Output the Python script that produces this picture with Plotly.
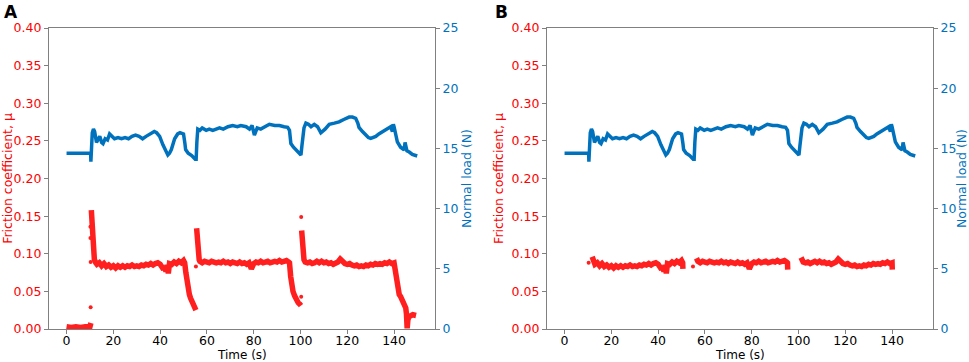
import plotly.graph_objects as go

# ---------------- data ----------------
# Normal load (N), identical in both panels
load_t = [0, 5, 10.3, 10.4, 10.6, 11.0, 11.5, 12.0, 12.8, 13.5, 14.2, 15.0, 15.6, 16.5, 17.5,
          18.4, 19.5, 20.5, 22, 23.5, 25, 26.5, 28, 29.5, 31, 32.5, 34, 35.5, 37.5, 38.5, 39.8,
          41.2, 42.3, 43.3, 44.0, 44.8, 46.2, 47.5, 48.5, 50.0, 50.6, 50.9, 52.0, 53.5, 55.0,
          55.4, 55.7, 56.1, 57, 58, 59.7, 61, 62.5, 64, 65.4, 67, 69, 71, 73, 74.5, 76.8, 78.2,
          79.3, 80.3, 81.5, 83, 85, 86.7, 89, 91, 93, 94.5, 95.3, 95.9, 97, 98.1, 99.5, 100.2,
          100.6, 100.9, 101.5, 102.3, 103.4, 104.5, 105.9, 107.3, 108.7, 110.5, 112.3, 114.5,
          116.5, 118.5, 120.8, 122.2, 123.6, 124.5, 125.0, 126.5, 127.9, 129, 130.0, 131.2,
          132.2, 133.5, 135.0, 136.8, 138.5, 139.3, 139.7, 140.0, 140.7, 141.4, 142.8, 144.3,
          144.7, 145.0, 145.5, 146.5, 147.8, 149.9]
load_n = [14.6, 14.6, 14.6, 13.9, 15.2, 16.3, 16.6, 16.4, 15.5, 15.7, 16.0, 15.5, 15.4, 15.8, 15.7,
          16.2, 16.0, 15.8, 15.9, 15.8, 15.9, 15.8, 16.0, 16.1, 16.0, 15.8, 16.0, 16.2, 16.4, 16.3, 16.0,
          15.3, 14.8, 14.45, 14.6, 14.9, 15.8, 16.2, 16.3, 16.2, 15.4, 14.9, 14.6, 14.4, 14.1,
          14.1, 15.5, 16.6, 16.5, 16.7, 16.5, 16.6, 16.5, 16.6, 16.7, 16.6, 16.8, 16.9, 16.8, 16.9, 16.8, 16.6,
          16.9, 16.1, 16.7, 16.6, 16.8, 17.0, 16.9, 16.9, 16.8, 16.75, 16.5, 15.4, 15.1, 14.9, 14.6, 14.45,
          15.2, 16.0, 16.7, 17.1, 17.0, 16.8, 17.0, 16.8, 16.3, 16.6, 17.0, 17.1,
          17.2, 17.4, 17.6, 17.6, 17.5, 17.1, 16.75, 16.4, 16.1, 15.9, 15.84, 15.9,
          16.0, 16.2, 16.4, 16.6, 16.8, 16.4, 17.0, 16.8, 16.0, 15.55, 15.1, 14.87,
          15.5, 15.2, 14.8, 14.7, 14.5, 14.37]

# Friction plateaus (shared by both panels)
plat1_t = [12.5, 13, 14, 15, 16, 17, 18, 19, 20, 21, 22, 23, 24, 25, 26, 27, 28, 29, 30, 31, 32, 33,
           34, 35, 36, 37, 38, 39, 40, 41, 41.5, 42, 42.5, 43, 43.5, 44, 45, 46, 47, 48, 49, 50, 50.5]
plat1_mu = [0.088, 0.086, 0.088, 0.084, 0.087, 0.083, 0.085, 0.082, 0.084, 0.081, 0.084, 0.082, 0.084,
            0.082, 0.084, 0.083, 0.085, 0.083, 0.084, 0.083, 0.085, 0.084, 0.086, 0.085, 0.087, 0.085,
            0.087, 0.088, 0.086, 0.083, 0.079, 0.084, 0.076, 0.085, 0.074, 0.087, 0.086, 0.089, 0.087,
            0.090, 0.088, 0.091, 0.088]
plat2_t = [57, 58, 59, 60, 61, 62, 63, 64, 65, 66, 67, 68, 69, 70, 71, 72, 73, 74, 75, 76, 77, 78, 79,
           80, 81, 82, 83, 84, 85, 86, 87, 88, 89, 90, 91, 92, 93, 94, 95, 95.3]
plat2_mu = [0.090, 0.088, 0.090, 0.089, 0.088, 0.090, 0.089, 0.088, 0.089, 0.088, 0.090, 0.088, 0.089,
            0.087, 0.089, 0.088, 0.087, 0.089, 0.087, 0.088, 0.086, 0.088, 0.080, 0.087, 0.089, 0.088,
            0.090, 0.088, 0.089, 0.090, 0.088, 0.089, 0.090, 0.089, 0.091, 0.089, 0.090, 0.091, 0.089, 0.088]
plat3_t = [102, 103, 104, 105, 106, 107, 108, 109, 110, 111, 112, 113, 114, 115, 116, 117, 118, 119, 120,
           121, 122, 123, 124, 125, 126, 127, 128, 129, 130, 131, 132, 133, 134, 135, 136, 137, 138, 139, 140]
plat3_mu = [0.089, 0.088, 0.089, 0.087, 0.088, 0.090, 0.088, 0.090, 0.088, 0.089, 0.087, 0.088, 0.086,
            0.087, 0.089, 0.093, 0.089, 0.087, 0.086, 0.087, 0.085, 0.084, 0.085, 0.083, 0.084, 0.083,
            0.085, 0.084, 0.086, 0.085, 0.087, 0.086, 0.087, 0.086, 0.088, 0.087, 0.089, 0.087, 0.088]

# Panel A transients
a_pre_t = [0, 2, 4, 6, 8, 10, 10.4]
a_pre_mu = [0.003, 0.002, 0.003, 0.002, 0.003, 0.003, 0.008]
a_rise1_t = [10.6, 10.8, 11.0, 11.2, 11.5, 11.9]
a_rise1_mu = [0.158, 0.145, 0.130, 0.115, 0.100, 0.092]
a_decay1_t = [51, 51.5, 52, 52.5, 53, 53.5, 54, 54.5, 55, 55.3]
a_decay1_mu = [0.075, 0.062, 0.053, 0.046, 0.041, 0.037, 0.034, 0.031, 0.028, 0.025]
a_rise2_t = [55.6, 55.8, 56.0, 56.3, 56.7]
a_rise2_mu = [0.134, 0.120, 0.108, 0.097, 0.092]
a_decay2_t = [95.8, 96.3, 96.8, 97.5, 98.2, 99, 99.7, 100.2]
a_decay2_mu = [0.070, 0.058, 0.050, 0.044, 0.039, 0.035, 0.033, 0.031]
a_rise3_t = [100.5, 100.7, 101, 101.5]
a_rise3_mu = [0.131, 0.115, 0.100, 0.092]
a_decay3_t = [140.5, 141, 141.6, 142.2, 142.8, 143.5, 144.3, 145, 145.3, 145.5, 145.6,
              145.7, 145.9, 146.3, 147, 148, 149.4]
a_decay3_mu = [0.075, 0.062, 0.052, 0.046, 0.043, 0.038, 0.034, 0.028, 0.020, 0.008, 0.001,
               0.004, 0.012, 0.016, 0.018, 0.019, 0.018]
a_dots_t = [10.2, 10.2, 10.3, 10.3, 55.3, 100.3, 100.3]
a_dots_mu = [0.136, 0.121, 0.089, 0.029, 0.083, 0.043, 0.149]

# Panel B lead-ins / ends
b_start1_t, b_start1_mu = [11.8, 12.2], [0.096, 0.092]
b_end1_t, b_end1_mu = [50.6], [0.080]
b_start2_t, b_start2_mu = [56.4, 56.7], [0.094, 0.091]
b_end2_t, b_end2_mu = [95.4], [0.079]
b_start3_t, b_start3_mu = [101.1, 101.5], [0.095, 0.091]
b_end3_t, b_end3_mu = [140.1], [0.079]
b_dots_t = [10.3, 54.9]
b_dots_mu = [0.088, 0.083]

x_ticks = [0, 20, 40, 60, 80, 100, 120, 140]
mu_ticks = [0.0, 0.05, 0.10, 0.15, 0.20, 0.25, 0.30, 0.35, 0.40]
n_ticks = [0, 5, 10, 15, 20, 25]

# ---------------- assemble segments ----------------
def join(segs):
    xs, ys = [], []
    for sx, sy in segs:
        if xs:
            xs.append(None); ys.append(None)
        xs += sx; ys += sy
    return xs, ys

a_x, a_y = join([
    (a_pre_t, a_pre_mu),
    (a_rise1_t + plat1_t + a_decay1_t, a_rise1_mu + plat1_mu + a_decay1_mu),
    (a_rise2_t + plat2_t + a_decay2_t, a_rise2_mu + plat2_mu + a_decay2_mu),
    (a_rise3_t + plat3_t + a_decay3_t, a_rise3_mu + plat3_mu + a_decay3_mu),
])
b_x, b_y = join([
    (b_start1_t + plat1_t + b_end1_t, b_start1_mu + plat1_mu + b_end1_mu),
    (b_start2_t + plat2_t + b_end2_t, b_start2_mu + plat2_mu + b_end2_mu),
    (b_start3_t + plat3_t + b_end3_t, b_start3_mu + plat3_mu + b_end3_mu),
])

RED = "#ff1f1f"
RED_TXT = "#ff0000"
BLUE = "#0072bd"
GRAY = "#808080"
FONT = "DejaVu Sans"
FS = 12.5
W, H = 969, 362

fig = go.Figure()
for xa, ya_red, ya_blue, rx, ry, dx, dy in [
    ("x", "y", "y2", a_x, a_y, a_dots_t, a_dots_mu),
    ("x2", "y3", "y4", b_x, b_y, b_dots_t, b_dots_mu),
]:
    fig.add_trace(go.Scatter(x=rx, y=ry, mode="lines", xaxis=xa, yaxis=ya_red,
                             line=dict(color=RED, width=5.5), connectgaps=False,
                             showlegend=False, hoverinfo="skip"))
    fig.add_trace(go.Scatter(x=dx, y=dy, mode="markers", xaxis=xa, yaxis=ya_red,
                             marker=dict(color=RED, size=4), showlegend=False, hoverinfo="skip"))
    fig.add_trace(go.Scatter(x=load_t, y=load_n, mode="lines", xaxis=xa, yaxis=ya_blue,
                             line=dict(color=BLUE, width=3.5), showlegend=False, hoverinfo="skip"))

ydom = [1 - 329 / H, 1 - 28 / H]
common_ax = dict(showline=True, linecolor=GRAY, linewidth=1.2, ticks="outside", ticklen=4,
                 tickcolor=GRAY, showgrid=False, zeroline=False, automargin=False)

def xaxis(dom, anchor):
    return dict(common_ax, domain=dom, anchor=anchor, range=[-7.5, 157.5], tickvals=x_ticks,
                mirror=True, ticklabelstandoff=-4,
                tickfont=dict(family=FONT, size=FS, color="black"))

def yleft(anchor):
    return dict(common_ax, domain=ydom, anchor=anchor, range=[0, 0.4], tickvals=mu_ticks,
                tickformat=".2f", tickfont=dict(family=FONT, size=FS, color=RED_TXT),
                title=dict(text="Friction coefficient, μ", font=dict(family=FONT, size=FS, color=RED_TXT),
                           standoff=5))

def yright(anchor, over):
    return dict(common_ax, domain=ydom, anchor=anchor, overlaying=over, side="right",
                range=[0, 25], tickvals=n_ticks, tickfont=dict(family=FONT, size=FS, color=BLUE),
                title=dict(text="Normal load (N)", font=dict(family=FONT, size=FS, color=BLUE),
                           standoff=1))

def label(text, xpx, ypx, size, **kw):
    return dict(text=text, x=xpx / W, y=1 - ypx / H, xref="paper", yref="paper",
                showarrow=False, font=dict(family=FONT, size=size, color="black"), **kw)

fig.update_layout(
    width=W, height=H, margin=dict(l=0, r=0, t=0, b=0),
    plot_bgcolor="white", paper_bgcolor="white",
    font=dict(family=FONT, size=FS),
    xaxis=xaxis([49 / W, 435 / W], "y"),
    yaxis=yleft("x"),
    yaxis2=yright("x", "y"),
    xaxis2=xaxis([547 / W, 933 / W], "y3"),
    yaxis3=yleft("x2"),
    yaxis4=yright("x2", "y3"),
    annotations=[
        label("<b>A</b>", 2, 0, 17, xanchor="left", yanchor="top"),
        label("<b>B</b>", 493, 0, 17, xanchor="left", yanchor="top"),
        label("Time (s)", (49 + 435) / 2, 354.5, 12, xanchor="center", yanchor="middle"),
        label("Time (s)", (547 + 933) / 2, 354.5, 12, xanchor="center", yanchor="middle"),
    ],
)

fig.write_html("out.html", config={"displayModeBar": False},
               post_script="document.body.style.margin='0';document.body.style.overflow='hidden';")
